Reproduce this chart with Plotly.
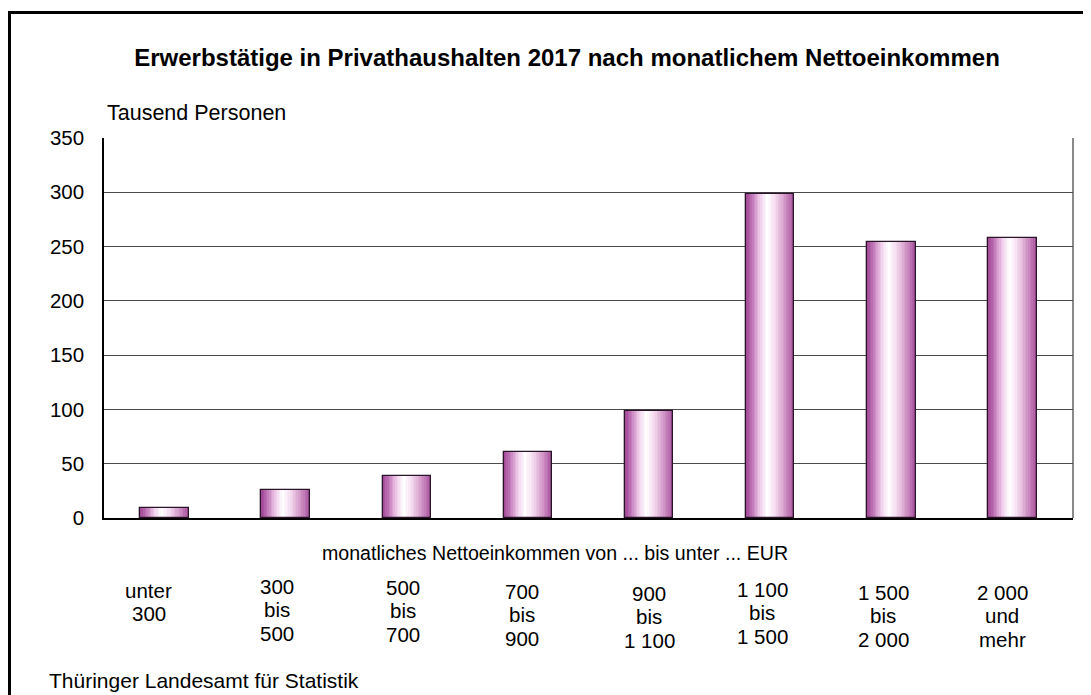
import plotly.graph_objects as go

# ---------------- data ----------------
categories = ["unter 300", "300 bis 500", "500 bis 700", "700 bis 900",
              "900 bis 1 100", "1 100 bis 1 500", "1 500 bis 2 000", "2 000 und mehr"]
category_labels = [["unter", "300"], ["300", "bis", "500"], ["500", "bis", "700"],
                   ["700", "bis", "900"], ["900", "bis", "1 100"], ["1 100", "bis", "1 500"],
                   ["1 500", "bis", "2 000"], ["2 000", "und", "mehr"]]
values = [9, 26, 39, 61, 99, 298, 254, 258]
y_ticks = [0, 50, 100, 150, 200, 250, 300, 350]

title_text = "Erwerbstätige in Privathaushalten 2017 nach monatlichem Nettoeinkommen"
y_unit_text = "Tausend Personen"
x_title_text = "monatliches Nettoeinkommen von ... bis unter ... EUR"
source_text = "Thüringer Landesamt für Statistik"

# ---------------- style / layout ----------------
OFF = 8                      # page body margin
W, H = 1091 - OFF, 695 - OFF
ML, MR, MT, MB = 96, 18, 130, 177
PW, PH = W - ML - MR, H - MT - MB
FONT = "Liberation Sans, Arial, sans-serif"
FS = 20.5
BAR_W = 0.4
N_STRIPS = 30

# label placement tweaks (reference-window pixels)
label_dx = [-16, -9, -4, -6, 0, -8, -8, -10]
label_y0 = [590, 586, 587, 591, 593, 589, 592, 592]
LINE_H = 23.5

stops = [(0.0, (158, 66, 148)), (0.12, (188, 110, 178)), (0.3, (240, 205, 235)),
         (0.45, (255, 255, 255)), (0.6, (246, 222, 241)), (0.8, (212, 155, 202)),
         (1.0, (168, 82, 158))]


def grad(t):
    for (t0, c0), (t1, c1) in zip(stops[:-1], stops[1:]):
        if t0 <= t <= t1:
            f = (t - t0) / (t1 - t0)
            return "rgb(%d,%d,%d)" % tuple(round(a + (b - a) * f) for a, b in zip(c0, c1))
    return "rgb(%d,%d,%d)" % stops[-1][1]


def py(y):  # window pixel y -> paper y
    return (H - MB - (y - OFF)) / PH


def px(x):  # window pixel x -> paper x
    return (x - OFF - ML) / PW


fig = go.Figure()
sw = BAR_W / N_STRIPS
for i in range(N_STRIPS):
    fig.add_trace(go.Bar(
        x=categories, y=values, width=sw * 1.02, offset=-BAR_W / 2 + i * sw,
        marker=dict(color=grad((i + 0.5) / N_STRIPS), line=dict(width=0)),
        showlegend=False, hoverinfo="skip"))
fig.add_trace(go.Bar(
    x=categories, y=values, width=BAR_W, offset=-BAR_W / 2,
    marker=dict(color="rgba(0,0,0,0)", line=dict(color="#2a1528", width=1.3)),
    showlegend=False, hovertemplate="%{x}: %{y}<extra></extra>"))

annotations = [
    dict(text=y_unit_text, xref="paper", yref="paper", x=px(105), y=py(113),
         xanchor="left", yanchor="middle", showarrow=False, font=dict(size=21.5)),
    dict(text=x_title_text, xref="paper", yref="paper", x=px(555), y=py(553),
         xanchor="center", yanchor="middle", showarrow=False, font=dict(size=19.6)),
    dict(text=source_text, xref="paper", yref="paper", x=px(47), y=py(680),
         xanchor="left", yanchor="middle", showarrow=False, font=dict(size=21)),
]
for ci, (cat, lines) in enumerate(zip(categories, category_labels)):
    for li, ln in enumerate(lines):
        annotations.append(dict(
            text=ln, xref="x", yref="paper", x=cat, xshift=label_dx[ci],
            y=py(label_y0[ci] + li * LINE_H), xanchor="center", yanchor="middle",
            showarrow=False, font=dict(size=FS)))

shapes = [
    # outer frame (extends beyond the visible page on right/bottom)
    dict(type="rect", xref="paper", yref="paper", x0=px(9.5), x1=px(1091 + 10),
         y0=py(695 + 10), y1=py(12.5), line=dict(color="black", width=3),
         fillcolor="rgba(0,0,0,0)", layer="above"),
    # right plot border
    dict(type="line", xref="paper", yref="paper", x0=1, x1=1, y0=0, y1=1,
         line=dict(color="#8a8a8a", width=2), layer="below"),
]

fig.update_layout(
    width=W, height=H,
    margin=dict(l=ML, r=MR, t=MT, b=MB, pad=0),
    paper_bgcolor="white", plot_bgcolor="white",
    barmode="overlay", bargap=0,
    font=dict(family=FONT, size=FS, color="black"),
    title=dict(text="<b>" + title_text + "</b>", x=(567 - OFF) / W, xanchor="center",
               xref="container", yref="container", y=1 - (58 - OFF) / H, yanchor="middle",
               font=dict(size=24, family=FONT, color="black")),
    xaxis=dict(type="category", range=[-0.5, len(categories) - 0.5],
               showticklabels=False, ticks="", showgrid=False, zeroline=False,
               showline=True, linecolor="black", linewidth=1.5, fixedrange=True),
    yaxis=dict(range=[0, 350], tickvals=y_ticks, ticktext=[str(v) for v in y_ticks],
               showgrid=True, gridcolor="#4a4a4a", gridwidth=1.3, zeroline=False,
               showline=True, linecolor="black", linewidth=1.5, ticks="",
               ticklabelstandoff=14, tickfont=dict(size=FS), fixedrange=True),
    annotations=annotations, shapes=shapes,
)

fig.write_html("out.html")
